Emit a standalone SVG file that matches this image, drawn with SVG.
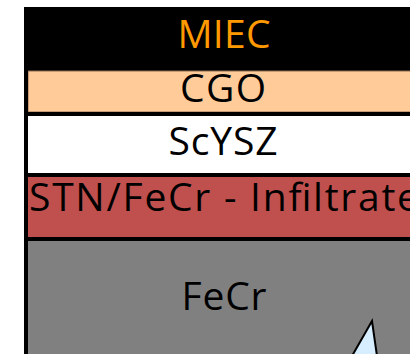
<svg xmlns="http://www.w3.org/2000/svg" width="410" height="354" viewBox="0 0 410 354">
<style>
text{font-family:"Open Sans","Noto Sans","Liberation Sans",sans-serif;font-size:39px;text-anchor:middle}
.d{fill:#000}
</style>
<rect x="0" y="0" width="410" height="354" fill="#fff"/>
<g id="miec">
<rect x="24" y="7" width="400" height="64" fill="#000"/>
<text x="224" y="48" fill="#FF9900" textLength="93">MIEC</text>
</g>
<g id="cgo">
<rect x="28" y="71" width="396" height="41" fill="#FFCC99" stroke="#8a6a50" stroke-width="1"/>
<text x="223" y="102" class="d" textLength="86">CGO</text>
</g>
<rect x="24" y="112" width="400" height="4" fill="#000"/>
<g id="scysz">
<rect x="28" y="116" width="396" height="57" fill="#fff"/>
<text x="223" y="155" class="d" textLength="109">ScYSZ</text>
</g>
<rect x="24" y="173" width="400" height="4" fill="#000"/>
<g id="stn">
<rect x="28" y="177" width="396" height="60" fill="#C0504D"/>
<text x="224" y="211" class="d" textLength="390">STN/FeCr - Infiltrate</text>
</g>
<rect x="24" y="237" width="400" height="4" fill="#000"/>
<g id="fecr">
<rect x="28" y="241" width="396" height="120" fill="#808080"/>
<text x="224" y="310" class="d" textLength="85">FeCr</text>
</g>
<rect x="24" y="7" width="4" height="350" fill="#000"/>
<g id="tip">
<polygon points="372,321 352,356 377,356" fill="#D6EEFF" stroke="#000" stroke-width="2" stroke-linejoin="miter"/>
</g>
</svg>
